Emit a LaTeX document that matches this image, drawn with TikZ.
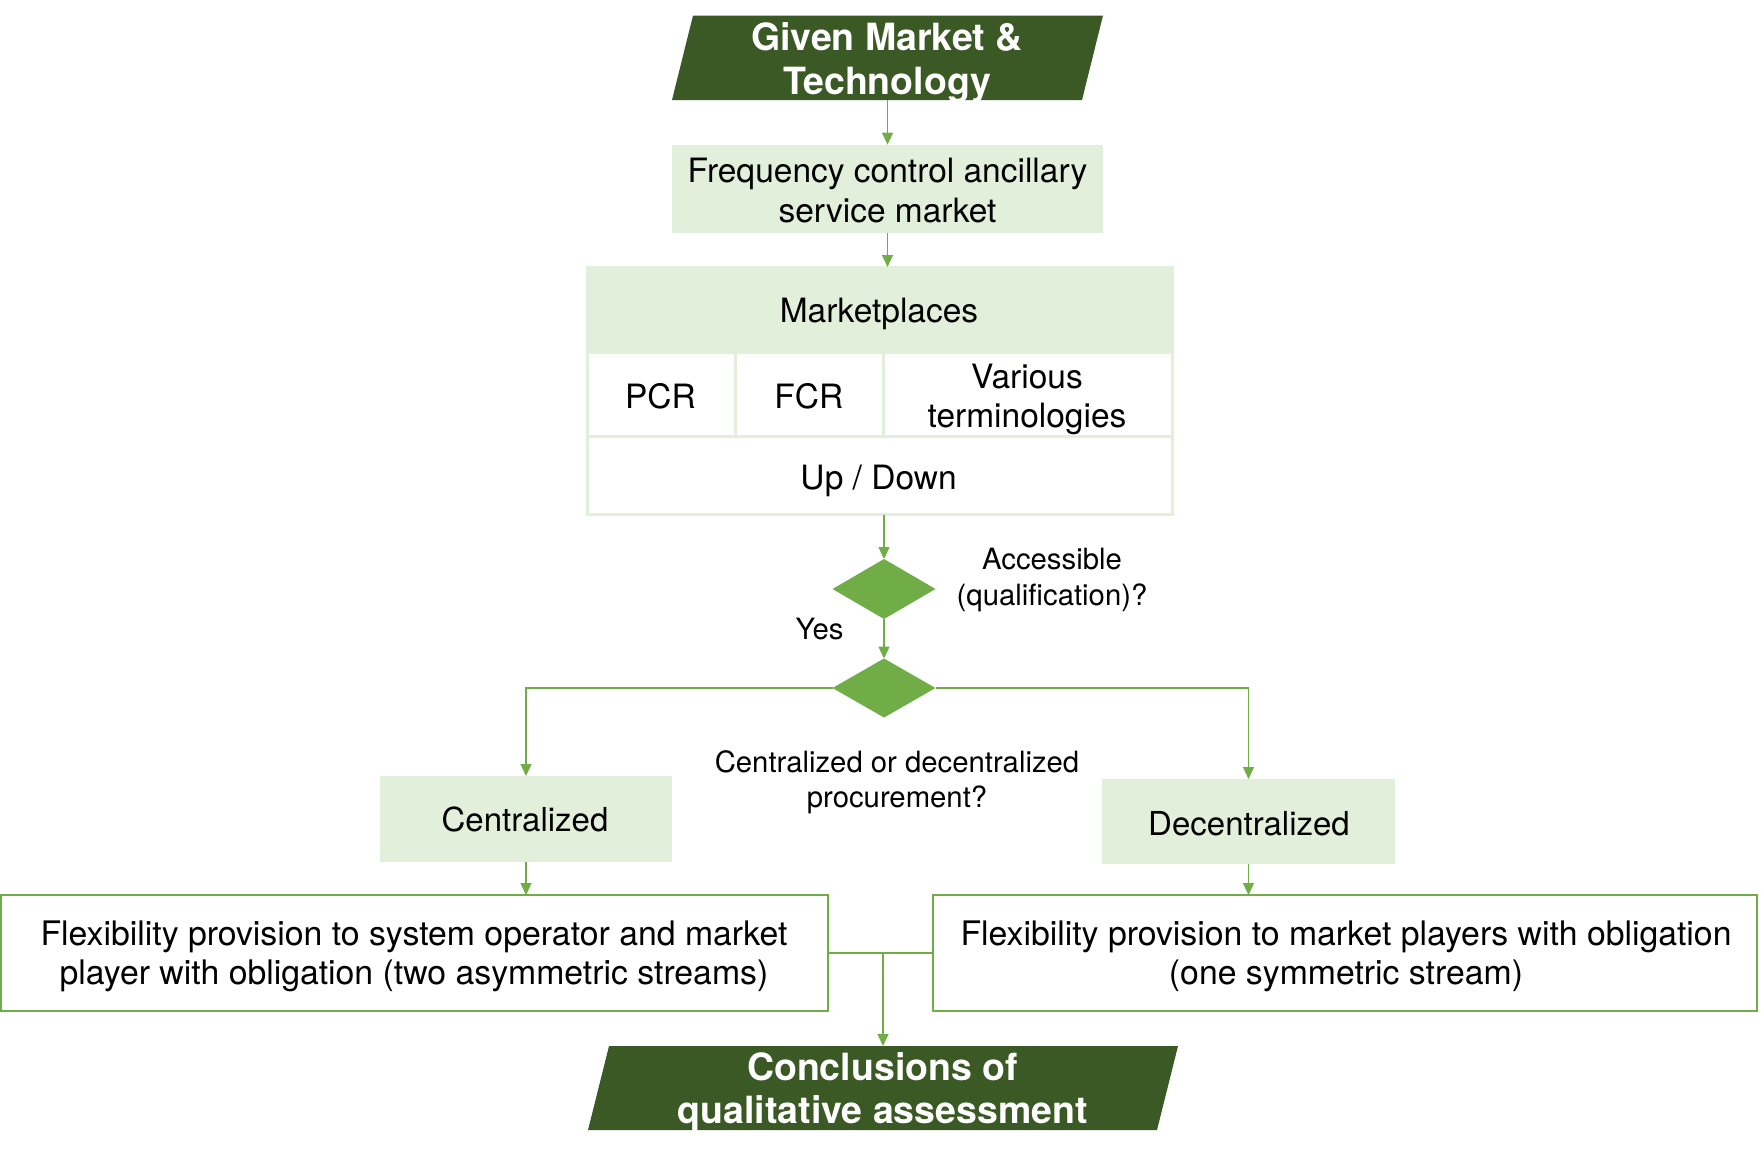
\documentclass[tikz,border=0pt]{standalone}
\usepackage{fontspec}
\setmainfont{TeX Gyre Heros}
\usetikzlibrary{shapes.geometric,arrows.meta,calc}
\definecolor{dkgreen}{HTML}{3A5924}
\definecolor{ltgreen}{HTML}{E2EFDA}
\definecolor{mdgreen}{HTML}{70AD47}
\begin{document}
\begin{tikzpicture}[x=1pt,y=-1pt,
  every node/.style={inner sep=0pt,outer sep=0pt},
  shapebox/.style={minimum width=#1},
  lightbox/.style={fill=ltgreen},
  tcell/.style={draw=ltgreen,line width=3pt},
  outbox/.style={draw=mdgreen,line width=2pt,fill=white},
  dia/.style={diamond,fill=mdgreen,minimum width=103pt,minimum height=60pt},
  maintext/.style={align=center,font=\fontsize{33.5}{39.5}\selectfont},
  smalltext/.style={align=center,font=\fontsize{29.3}{35}\selectfont},
  titletext/.style={align=center,text=white,font=\bfseries\fontsize{37.5}{44.8}\selectfont},
  ln/.style={draw=mdgreen,line width=1.3pt},
  arr/.style={ln,-{Triangle[length=12pt,width=11pt]}}
]
\useasboundingbox (0,0) rectangle (1764,1157);

% shapes
\node[shapebox=431pt,minimum height=84.5pt] (given) at (887.5,57.75) {};
\fill[dkgreen] (given.south west) -- ([xshift=21pt]given.north west) -- (given.north east) -- ([xshift=-21pt]given.south east) -- cycle;
\node[lightbox,shapebox=431pt,minimum height=88.5pt] (fcas) at (887.5,188.9) {};
\node[lightbox,tcell,shapebox=585pt,minimum height=85pt] (mp) at (879.5,309.5) {};
\node[tcell,shapebox=148pt,minimum height=84.6pt] (pcr) at (661,394.3) {};
\node[tcell,shapebox=148pt,minimum height=84.6pt] (fcr) at (809,394.3) {};
\node[tcell,shapebox=289pt,minimum height=84.6pt] (var) at (1027.5,394.3) {};
\node[tcell,shapebox=585pt,minimum height=78.2pt] (ud) at (879.5,475.7) {};
\node[dia] (d1) at (884,589) {};
\node[dia,minimum height=59pt] (d2) at (884,688) {};
\node[lightbox,shapebox=292pt,minimum height=86pt] (cent) at (526,819) {};
\node[lightbox,shapebox=293pt,minimum height=85pt] (dec) at (1248.5,821.5) {};
\node[outbox,shapebox=827pt,minimum height=116pt] (lb) at (414.5,953) {};
\node[outbox,shapebox=824pt,minimum height=116pt] (rb) at (1345,953) {};
\node[shapebox=590pt,minimum height=84pt] (conc) at (883,1088) {};
\fill[dkgreen] (conc.south west) -- ([xshift=21pt]conc.north west) -- (conc.north east) -- ([xshift=-21pt]conc.south east) -- cycle;

% texts
\node[titletext] (givent) at (887,62.7) {Given Market \&\\Technology};
\node[maintext] (fcast) at (887.5,190.7) {Frequency control ancillary\\service market};
\node[maintext,anchor=base] (mpt) at (879,322.7) {Marketplaces};
\node[maintext,anchor=base] (pcrt) at (660.4,408.1) {PCR};
\node[maintext,anchor=base] (fcrt) at (808.9,408.1) {FCR};
\node[maintext,font=\fontsize{33.5}{38.9}\selectfont] (vart) at (1027,399.2) {Various\\terminologies};
\node[maintext,anchor=base] (udt) at (878.5,489) {Up / Down};
\node[smalltext,font=\fontsize{29.3}{36}\selectfont] (acct) at (1052,579.6) {Accessible\\(qualification)?};
\node[smalltext,anchor=base] (yest) at (819.5,639) {Yes};
\node[smalltext] (proct) at (897,782.1) {Centralized or decentralized\\procurement?};
\node[maintext,font=\fontsize{33}{39}\selectfont,anchor=base] (centt) at (525,831.7) {Centralized};
\node[maintext,font=\fontsize{33}{39}\selectfont,anchor=base] (dect) at (1249,835.5) {Decentralized};
\node[maintext,font=\fontsize{33.8}{39}\selectfont] (lbt) at (414,956.1) {Flexibility provision to system operator and market\\player with obligation (two asymmetric streams)};
\node[maintext,font=\fontsize{33.8}{39}\selectfont] (rbt) at (1346,956.1) {Flexibility provision to market players with obligation\\(one symmetric stream)};
\node[titletext,font=\bfseries\fontsize{37.5}{43.3}\selectfont] (conct) at (882.5,1091.9) {Conclusions of\\qualitative assessment};

% connectors
\draw[arr] (given.south) -- (fcas.north);
\draw[arr] (fcas.south) -- (fcas.south |- mp.north);
\draw[arr] (ud.south -| d1.north) -- (d1.north);
\draw[arr] (d1.south) -- (d2.north);
\draw[arr] (d2.west) -| (cent.north);
\draw[arr] (d2.east) -| (dec.north);
\draw[arr] (cent.south) -- (cent.south |- lb.north);
\draw[arr] (dec.south) -- (dec.south |- rb.north);
\draw[ln] (lb.east) -- (rb.west);
\coordinate (j) at (lb.east -| conc.north);
\draw[arr] (j) -- (conc.north);
\end{tikzpicture}
\end{document}
